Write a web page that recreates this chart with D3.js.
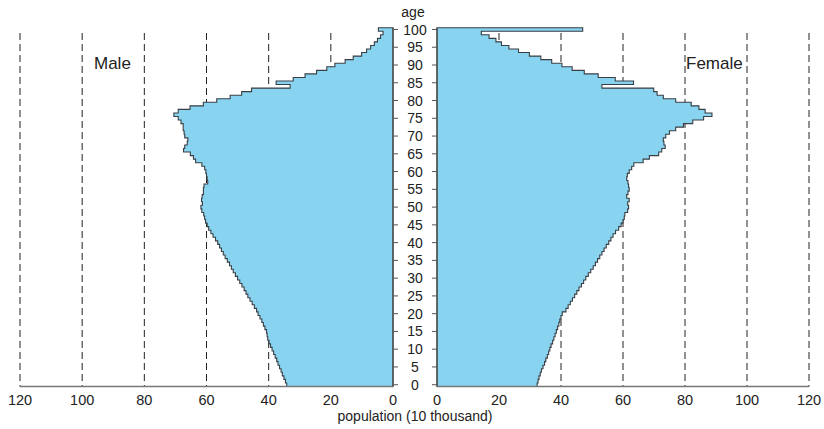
<!DOCTYPE html>
<html><head><meta charset="utf-8">
<script src="https://cdn.jsdelivr.net/npm/d3@7"></script>
<style>body{margin:0;background:#fff;} svg{display:block;font-family:"Liberation Sans",Arial,sans-serif;}</style>
</head><body><svg id="c" width="824" height="429"></svg>
<script>
const ages = d3.range(0, 101);
const male = [34.2,34.6,35.1,35.6,36.0,36.5,37.0,37.4,37.9,38.4,
38.9,39.4,39.9,40.3,40.5,40.7,41.2,41.7,42.2,42.8,
43.4,43.9,44.6,45.3,46.0,46.7,47.3,47.9,48.6,49.3,
50.0,50.7,51.4,52.0,52.6,53.3,54.0,54.6,55.2,55.8,
56.4,57.1,57.9,58.6,59.3,59.8,60.3,60.6,60.9,61.5,
61.8,61.3,61.6,61.4,61.0,61.0,60.8,59.6,59.8,60.0,
60.2,60.6,61.5,63.5,64.2,65.2,67.4,67.0,66.2,66.0,
67.0,67.2,67.5,67.5,68.2,69.1,70.5,69.1,65.3,61.0,
56.7,52.4,48.7,45.5,33.1,37.6,32.1,28.3,24.6,21.3,
18.7,15.4,12.8,10.1,8.5,7.2,6.0,5.0,4.0,3.2,
4.7];
const female = [32.3,32.6,32.9,33.3,33.7,34.2,34.7,35.1,35.6,36.0,
36.4,36.8,37.3,37.7,38.1,38.5,38.9,39.3,39.6,40.0,
40.4,41.6,42.3,43.0,43.7,44.4,45.1,45.8,46.6,47.3,
48.0,48.8,49.6,50.4,51.1,51.8,52.5,53.2,53.9,54.6,
55.4,56.1,56.8,57.6,58.6,59.4,60.0,60.4,60.6,61.5,
61.8,61.5,62.0,61.2,61.6,62.0,61.8,61.6,61.2,61.4,
62.0,62.8,63.5,66.5,68.5,71.5,72.5,73.6,73.2,73.0,
73.8,75.0,77.0,79.5,82.5,86.0,88.7,86.5,84.5,82.0,
77.0,73.0,71.0,69.9,53.2,63.4,57.5,52.0,47.5,43.6,
40.3,37.0,33.5,29.8,26.3,23.2,20.8,19.0,16.8,14.3,
47.0];
const popTicks = [0,20,40,60,80,100,120];
const ageTicks = d3.range(0, 101, 5);

const svg = d3.select("#c");
const xm = d3.scaleLinear().domain([0,120]).range([393,20]);
const xf = d3.scaleLinear().domain([0,120]).range([437,809]);
const y = d3.scaleLinear().domain([-0.5,100.5]).range([386.5,27.7]);

// gridlines
const gridTop = 33;
[[xm,popTicks.slice(1)],[xf,popTicks.slice(1)]].forEach(([sc,t])=>{
  svg.append("g").selectAll("line").data(t).join("line")
    .attr("x1",d=>sc(d)).attr("x2",d=>sc(d))
    .attr("y1",gridTop).attr("y2",y(-0.5))
    .attr("stroke","#222").attr("stroke-width",1)
    .attr("stroke-dasharray","7,4");
});

function outline(vals){
  const pts = [[0,-0.5]];
  vals.forEach((v,i)=>{ pts.push([v,ages[i]-0.5]); pts.push([v,ages[i]+0.5]); });
  pts.push([0,100.5]);
  return pts;
}
const lm = d3.line().x(d=>xm(d[0])).y(d=>y(d[1]));
const lf = d3.line().x(d=>xf(d[0])).y(d=>y(d[1]));
svg.append("path").attr("d",lm(outline(male))+"Z")
  .attr("fill","#87d3f0").attr("stroke","#3a3f44").attr("stroke-width",1.1);
svg.append("path").attr("d",lf(outline(female))+"Z")
  .attr("fill","#87d3f0").attr("stroke","#3a3f44").attr("stroke-width",1.1);

// bottom axes
const axCol = "#777";
svg.append("line").attr("x1",xm(120)).attr("x2",xm(0)).attr("y1",y(-0.5)).attr("y2",y(-0.5))
  .attr("stroke",axCol).attr("stroke-width",1.6);
svg.append("line").attr("x1",xf(0)).attr("x2",xf(120)).attr("y1",y(-0.5)).attr("y2",y(-0.5))
  .attr("stroke",axCol).attr("stroke-width",1.6);
// vertical axes
svg.append("line").attr("x1",xm(0)).attr("x2",xm(0)).attr("y1",y(100.5)).attr("y2",y(-0.5))
  .attr("stroke","#555").attr("stroke-width",1.4);
svg.append("line").attr("x1",xf(0)).attr("x2",xf(0)).attr("y1",y(100.5)).attr("y2",y(-0.5))
  .attr("stroke","#555").attr("stroke-width",1.4);

// age ticks
const at = svg.append("g");
at.selectAll(".tm").data(ageTicks).join("line")
  .attr("x1",xm(0)).attr("x2",xm(0)+5).attr("y1",d=>y(d)).attr("y2",d=>y(d))
  .attr("stroke","#555");
at.selectAll(".tf").data(ageTicks).join("line")
  .attr("x1",xf(0)-5).attr("x2",xf(0)).attr("y1",d=>y(d)).attr("y2",d=>y(d))
  .attr("stroke","#555");
at.selectAll("text").data(ageTicks).join("text")
  .attr("x",415).attr("y",d=>y(d)).attr("dy","0.36em")
  .attr("text-anchor","middle").attr("font-size",14).attr("fill","#222")
  .text(d=>d);

svg.append("text").attr("x",413).attr("y",12).attr("dy","0.35em").attr("text-anchor","middle")
  .attr("font-size",14).attr("fill","#222").text("age");

// pop tick labels
svg.append("g").selectAll("text").data(popTicks).join("text")
  .attr("x",d=>xm(d)).attr("y",400).attr("dy","0.35em").attr("text-anchor","middle")
  .attr("font-size",14.5).attr("fill","#222").text(d=>d);
svg.append("g").selectAll("text").data(popTicks).join("text")
  .attr("x",d=>xf(d)).attr("y",400).attr("dy","0.35em").attr("text-anchor","middle")
  .attr("font-size",14.5).attr("fill","#222").text(d=>d);

svg.append("text").attr("x",415).attr("y",416).attr("dy","0.35em").attr("text-anchor","middle")
  .attr("font-size",14).attr("fill","#222").text("population (10 thousand)");

svg.append("text").attr("x",94).attr("y",63).attr("dy","0.35em")
  .attr("font-size",17).attr("fill","#222").text("Male");
svg.append("text").attr("x",686).attr("y",63).attr("dy","0.35em")
  .attr("font-size",17).attr("fill","#222").text("Female");
</script></body></html>
